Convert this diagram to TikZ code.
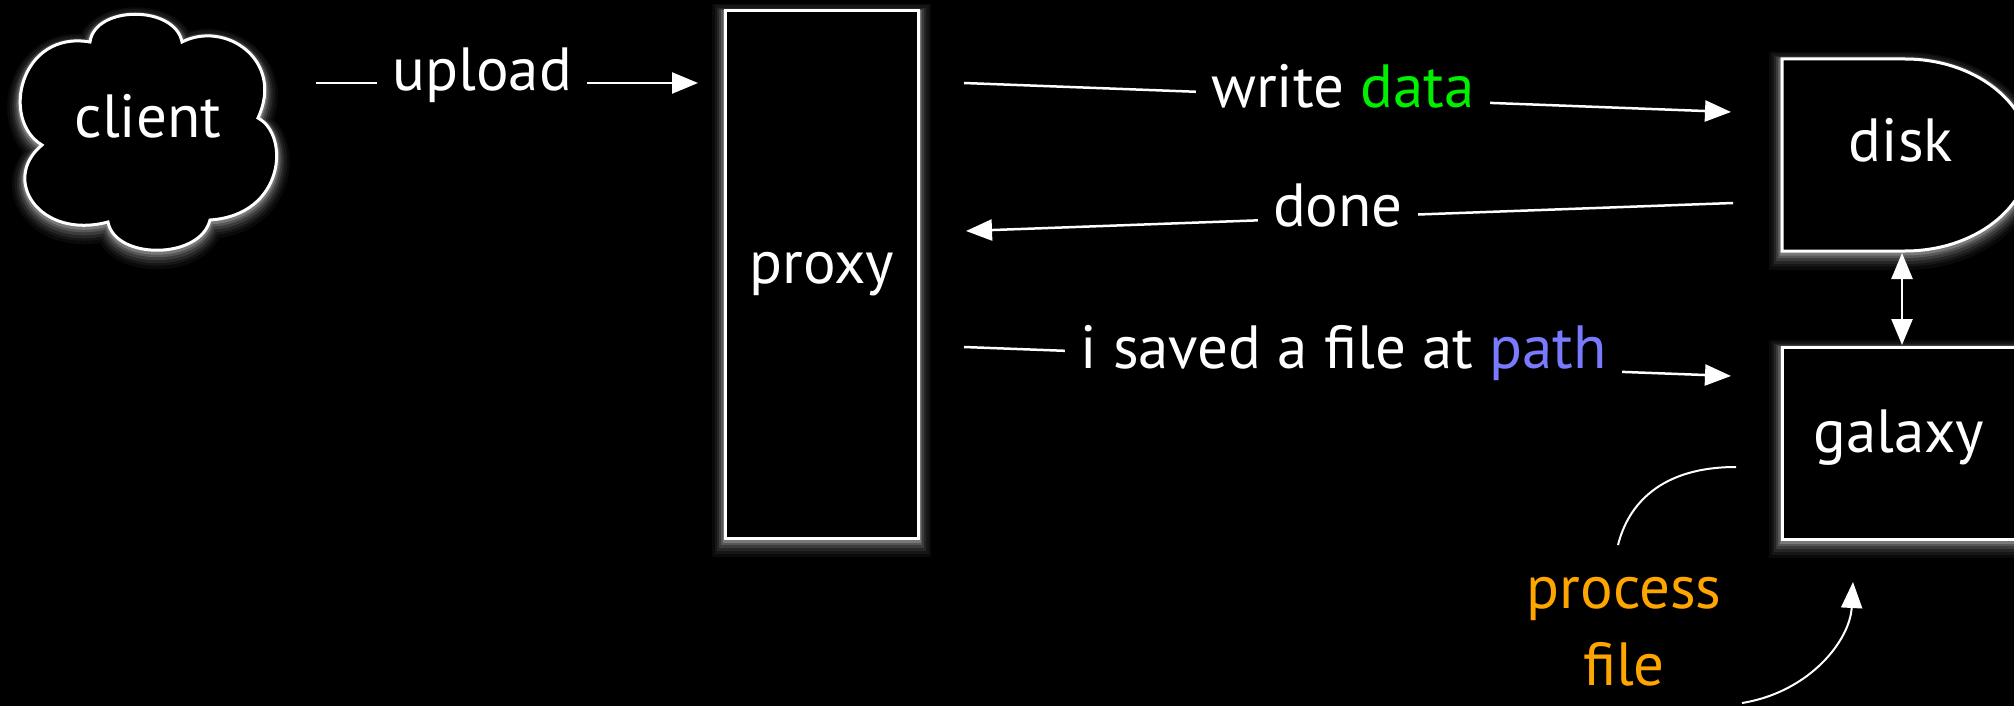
\documentclass[tikz,border=0pt]{standalone}
\usepackage{fontspec}
\setmainfont{PT Sans}
\usetikzlibrary{arrows.meta}
\definecolor{datagreen}{RGB}{0,240,0}
\definecolor{pathblue}{RGB}{122,122,255}
\definecolor{procorange}{RGB}{255,165,0}
\begin{document}
\begin{tikzpicture}[x=1pt,y=-1pt,
  every node/.style={font=\fontsize{61}{77}\selectfont, text=white},
  shape glow/.style={
    preaction={draw=white, draw opacity=0.04, line width=26pt, transform canvas={yshift=-6pt}},
    preaction={draw=white, draw opacity=0.05, line width=21pt, transform canvas={yshift=-5pt}},
    preaction={draw=white, draw opacity=0.07, line width=16pt, transform canvas={yshift=-5pt}},
    preaction={draw=white, draw opacity=0.10, line width=12pt, transform canvas={yshift=-4pt}},
    preaction={draw=white, draw opacity=0.14, line width=8pt, transform canvas={yshift=-3pt}},
    preaction={draw=white, draw opacity=0.20, line width=5pt, transform canvas={yshift=-2pt}},
    fill=black, draw=white, line width=3pt},
  conn/.style={draw=white, line width=2.5pt},
  arrowtip/.style={-{Triangle[length=26pt,width=21pt]}},
  lbl/.style={fill=black, inner xsep=15pt, inner ysep=4pt, anchor=base},
]
\fill[black] (0,0) rectangle (2014,706);
\useasboundingbox (0,0) rectangle (2014,706);

% client cloud
\path[shape glow] (90,42) .. controls (95,5) and (175,5) .. (182,42)
  .. controls (225,20) and (285,60) .. (258,118)
  .. controls (290,135) and (285,215) .. (210,220)
  .. controls (200,260) and (115,260) .. (108,222)
  .. controls (40,240) and (0,180) .. (42,145)
  .. controls (0,120) and (20,30) .. (90,42) -- cycle;
\node[anchor=base] (client) at (148,138) {client};

% proxy
\node[shape glow, rectangle, minimum width=193pt, minimum height=527pt, inner sep=0pt] (proxy) at (821.5,274.5) {proxy};

% disk
\path[shape glow] (1782,59) -- (1905,59) arc[start angle=90, end angle=-90, x radius=125pt, y radius=96pt] -- (1782,251) -- cycle;
\node[anchor=base] (disk) at (1901,162) {disk};

% galaxy
\node[shape glow, rectangle, minimum width=234pt, minimum height=192pt, inner sep=0pt] (galaxy) at (1899,443) {};
\node[anchor=base] (galaxytext) at (1899,452) {galaxy};

% connectors
\coordinate (upA) at (316,83);
\coordinate (upB) at (698,83);
\draw[conn, arrowtip] (upA) -- node[lbl, pos=0.435, yshift=-8pt] (uplbl) {upload} (upB);

\coordinate (wrA) at (964,83);
\coordinate (wrB) at (1731,112);
\draw[conn, arrowtip] (wrA) -- node[lbl, pos=0.494, yshift=-9.7pt] (wrlbl) {write \textcolor{datagreen}{data}} (wrB);

\coordinate (dnA) at (1733,203);
\coordinate (dnB) at (966,231);
\draw[conn, arrowtip] (dnA) -- node[lbl, pos=0.515, yshift=-8.6pt] (dnlbl) {done} (dnB);

\coordinate (svA) at (964,347);
\coordinate (svB) at (1731,376);
\draw[conn, arrowtip] (svA) -- node[lbl, pos=0.495, yshift=-7.6pt] (svlbl) {i saved a file at \textcolor{pathblue}{path}} (svB);

\coordinate (dkB) at (1902,253);
\coordinate (gxT) at (1902,345);
\draw[conn, {Triangle[length=26pt,width=21pt]}-{Triangle[length=26pt,width=21pt]}] (dkB) -- (gxT);

% process file
\node[text=procorange, align=center] (proc) at (1624,632) {process\\file};
\coordinate (pA) at (1736,467);
\coordinate (pB) at (1618,545);
\draw[conn, line width=2pt] (pA) .. controls (1660,467) and (1628,505) .. (pB);
\coordinate (qA) at (1742,703);
\coordinate (qB) at (1853,582);
\draw[conn, line width=2pt, arrowtip] (qA) .. controls (1810,692) and (1850,640) .. (qB);
\end{tikzpicture}
\end{document}
